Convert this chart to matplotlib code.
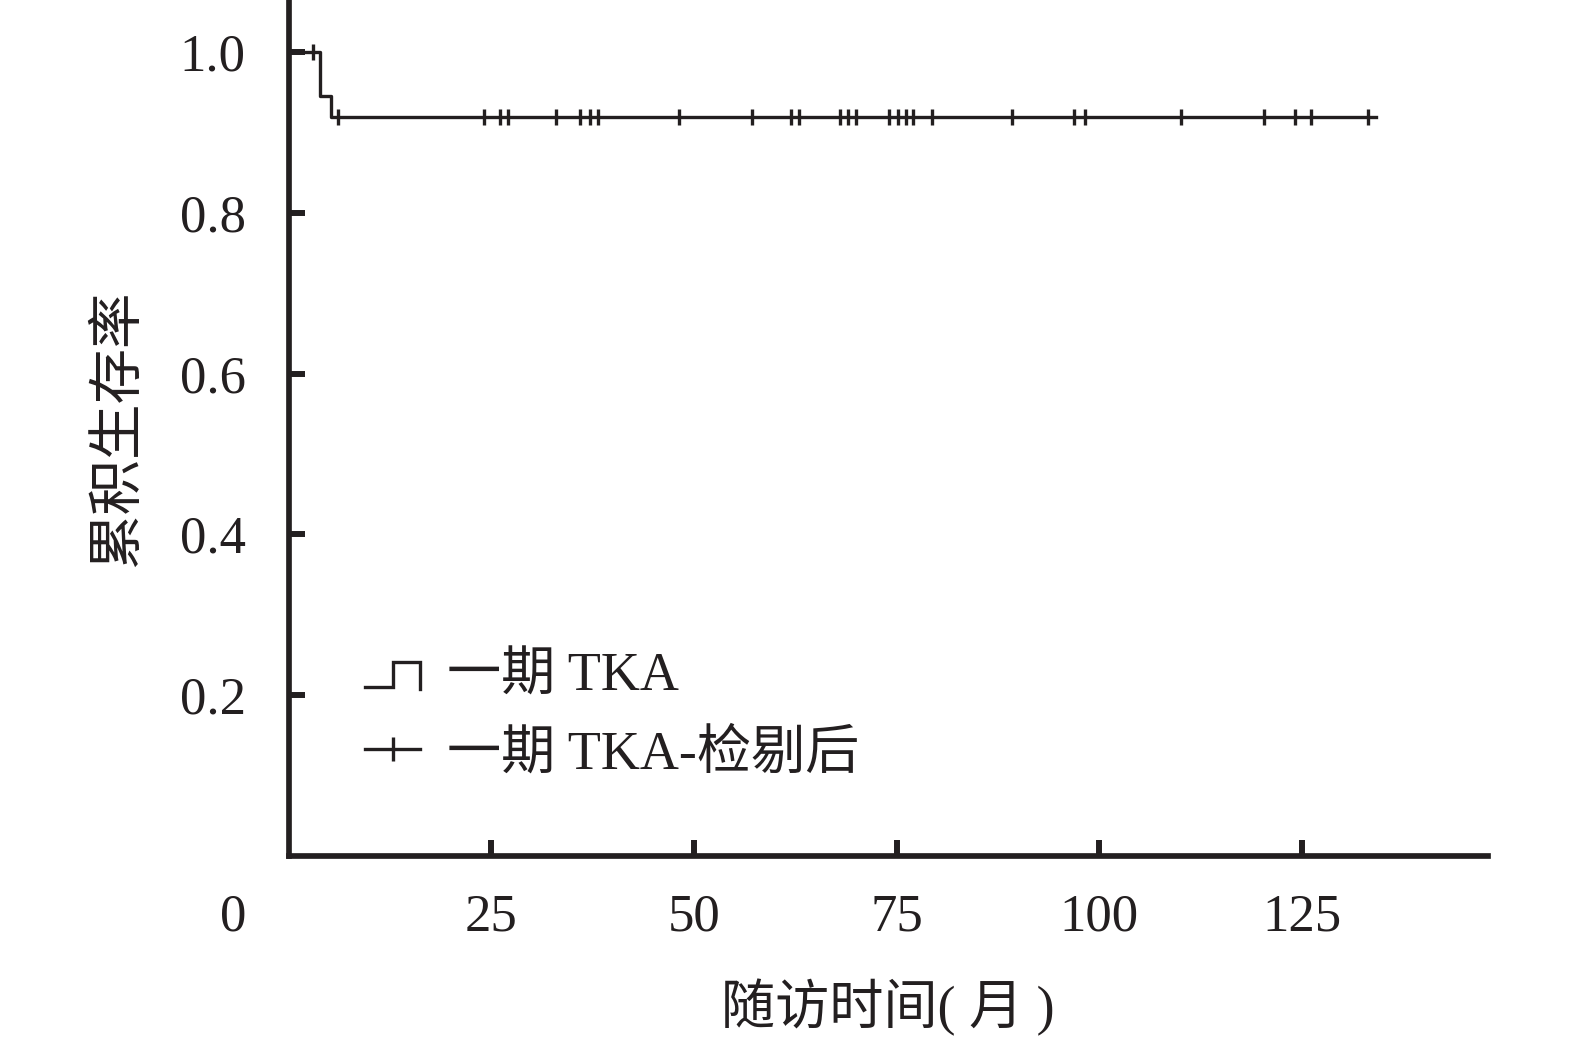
import numpy as np
import matplotlib
matplotlib.use('Agg')
import matplotlib.pyplot as plt
from matplotlib.lines import Line2D
from matplotlib.legend_handler import HandlerBase

plt.rcParams['font.family'] = ['Liberation Serif', 'Noto Sans CJK SC']

INK = '#231f20'

# Kaplan-Meier curve
event_times = [0, 3.9, 5.2]
survival = [1.0, 0.946, 0.919]
follow_up_end = 134.1

# censored observations (months)
censor_times = [3.0, 6.1, 24.1, 26.0, 27.0, 33.0, 35.9, 37.1, 38.2, 48.1,
                57.1, 61.9, 62.9, 68.0, 69.0, 70.0, 74.1, 75.1, 76.1, 77.0,
                79.3, 89.2, 96.9, 98.2, 110.1, 120.3, 124.2, 126.1, 133.2]

x_ticks = [25, 50, 75, 100, 125]
y_ticks = [0.2, 0.4, 0.6, 0.8, 1.0]
legend_labels = ['一期 TKA', '一期 TKA-检剔后']
x_label = '随访时间( 月 )'
y_label = '累积生存率'


class StepHandler(HandlerBase):
    def create_artists(self, legend, orig_handle, xdescent, ydescent,
                       width, height, fontsize, trans):
        x0, w = -xdescent, width
        y0, h = -ydescent, height
        xs = [x0, x0 + 0.5 * w, x0 + 0.5 * w, x0 + w, x0 + w]
        ys = [y0 + 0.1 * h, y0 + 0.1 * h, y0 + 0.75 * h, y0 + 0.75 * h, y0 + 0.05 * h]
        line = Line2D(xs, ys, color=INK, lw=2.4, solid_joinstyle='miter')
        line.set_transform(trans)
        return [line]


fig = plt.figure(figsize=(15.75, 10.47), dpi=100)
ax = fig.add_axes([0.1834, 0.1826, 0.7611, 0.8174])

t_line = event_times + [follow_up_end]
s_line = survival + [survival[-1]]
ax.step(t_line, s_line, where='post', color=INK, lw=2.4)

idx = np.searchsorted(event_times, censor_times, side='right') - 1
cens_surv = np.array(survival)[idx]
ax.plot(censor_times, cens_surv, ls='none', marker='|', markersize=12,
        mew=2.4, color=INK)

ax.set_xlim(0, 147.9)
ax.set_ylim(0, 1.065)
ax.set_xticks(x_ticks)
ax.set_yticks(y_ticks)
ax.set_yticklabels([f'{v:.1f}' for v in y_ticks])
ax.tick_params(axis='both', direction='in', length=11.5, width=4.3,
               colors=INK, labelsize=38)
ax.tick_params(axis='x', pad=27)
ax.tick_params(axis='y', pad=31)

for side in ['top', 'right']:
    ax.spines[side].set_visible(False)
for side in ['left', 'bottom']:
    ax.spines[side].set_linewidth(4.1)
    ax.spines[side].set_color(INK)
    ax.spines[side].set_capstyle('projecting')

# the shared origin label sits left of the axis corner
ax.annotate('0', xy=(0, 0), xycoords=('data', 'axes fraction'),
            xytext=(-40, -27), textcoords='offset points',
            ha='center', va='top', fontsize=38, color=INK)

ax.set_xlabel(x_label, fontsize=39, color=INK, labelpad=27)
ax.set_ylabel(y_label, fontsize=40, color=INK, labelpad=25)

handles = [Line2D([], [], color=INK, lw=2.4),
           Line2D([], [], color=INK, lw=2.4, marker='|', markersize=17, mew=2.4)]
ax.legend(handles, legend_labels, loc='upper left',
          bbox_to_anchor=(0.0635, 0.238), frameon=False, fontsize=39,
          handlelength=1.02, handletextpad=0.5, labelspacing=0.5,
          borderpad=0, borderaxespad=0, numpoints=1,
          handler_map={handles[0]: StepHandler()})
for txt in ax.get_legend().get_texts():
    txt.set_color(INK)

fig.savefig('out.png', dpi=100)
